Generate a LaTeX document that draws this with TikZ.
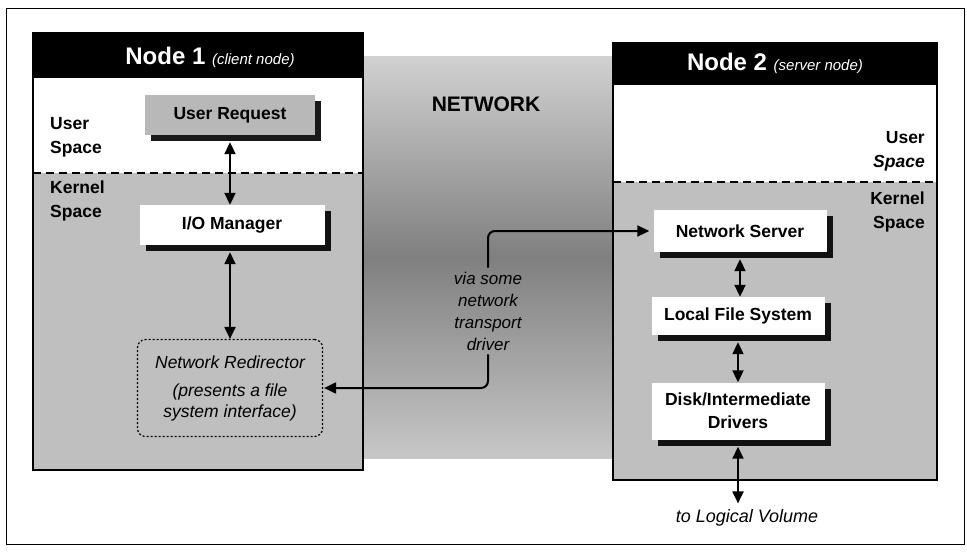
\documentclass[tikz,border=0pt]{standalone}
\usepackage{fontspec}
\setmainfont{Liberation Sans}
\usetikzlibrary{positioning,shadows,arrows.meta}

\tikzset{
  box/.style={fill=white, minimum width=173pt, align=center,
    font=\fontsize{17.5}{23}\selectfont\bfseries,
    drop shadow={shadow xshift=6pt, shadow yshift=-6pt, fill=black, opacity=0.9}},
  side/.style={font=\fontsize{17.5}{24}\selectfont\bfseries},
  ital/.style={font=\fontsize{17}{22}\selectfont\itshape, align=center},
  twoway/.style={{Triangle[length=12pt,width=11pt]}-{Triangle[length=12pt,width=11pt]}, line width=2pt},
  oneway/.style={-{Triangle[length=12pt,width=11pt]}, line width=2pt, rounded corners=7pt},
  split/.style={line width=2pt, dash pattern=on 8pt off 5pt}
}

\begin{document}
\begin{tikzpicture}[x=1pt,y=-1pt]
\tikzstyle{every node}+=[inner sep=0pt]
\useasboundingbox (0,0) rectangle (967,552);
\draw [line width=0.7pt] (6,8) rectangle (964,544);
% network in between
\shade [top color=black!18, bottom color=black!22, middle color=black!50] (350,56) rectangle (628,458);
\node [font=\fontsize{21}{24}\selectfont\bfseries] (net) at (486,104) {NETWORK};
% node 1
\fill [white] (33,33) rectangle (363,470);
\fill [black!25] (33,173) rectangle (363,470);
\fill [black] (33,33) rectangle (363,78);
\draw [line width=2.5pt] (33,33) rectangle (363,470);
\draw [split] (33,173) -- (363,173);
\node [white, font=\fontsize{24}{28}\selectfont\bfseries] (title1) at (210,57)
  {Node 1 {\mdseries\itshape\fontsize{15}{18}\selectfont (client node)}};
\node [side, align=left, anchor=west] (user1) at (50,137) {User\\Space};
\node [side, align=left, anchor=west] (kern1) at (50,201) {Kernel\\Space};
% node 2
\fill [white] (613,43) rectangle (937,480);
\fill [black!25] (613,182) rectangle (937,480);
\fill [black] (613,43) rectangle (937,85);
\draw [line width=2.5pt] (613,43) rectangle (937,480);
\draw [split] (613,182) -- (937,182);
\node [white, font=\fontsize{24}{28}\selectfont\bfseries] (title2) at (775,63)
  {Node 2 {\mdseries\itshape\fontsize{15}{18}\selectfont (server node)}};
\node [side, align=right, anchor=east] (user2) at (925,151) {User\\\textit{Space}};
\node [side, align=right, anchor=east] (kern2) at (925,212) {Kernel\\Space};
% boxes of node 1
\node [box, fill=black!28, minimum width=170pt, minimum height=40pt] (userreq) at (230,115) {User Request};
\node [box, minimum width=185pt, minimum height=40pt] (iomgr) at (232,225) {I/O Manager};
\node [ital, draw, line width=1.2pt, dash pattern=on 2pt off 2pt, rounded corners=8pt,
  minimum width=185pt, minimum height=97pt, font=\fontsize{17.5}{21}\selectfont\itshape] (redir) at (230,388)
  {Network Redirector\\[7pt](presents a file\\system interface)};
% boxes of node 2
\node [box, minimum height=42pt] (netsrv) at (740,231) {Network Server};
\node [box, minimum height=38pt] (localfs) at (738,316) {Local File System};
\node [box, minimum height=57pt] (disk) at (738,411) {Disk/Intermediate\\Drivers};
\node [ital, font=\fontsize{18}{22}\selectfont\itshape] (logvol) at (747,518) {to Logical Volume};
% transport
\node [ital, inner sep=4pt] (via) at (488,311) {via some\\network\\transport\\driver};
% arrows
\draw [twoway, shorten <=7pt] (userreq.south) -- (userreq.south |- iomgr.north);
\draw [twoway, shorten <=7pt] (iomgr.south -| redir.north) -- (redir.north);
\draw [twoway, shorten <=7pt] (netsrv.south) -- (netsrv.south |- localfs.north);
\draw [twoway, shorten <=7pt] (localfs.south) -- (disk.north);
\draw [twoway, shorten <=7pt, shorten >=6pt] (disk.south) -- (disk.south |- logvol.north);
\draw [oneway, shorten >=4pt] (via.north) |- (netsrv.west);
\draw [oneway, shorten >=1pt] (via.south) |- (redir.east);
\end{tikzpicture}
\end{document}
